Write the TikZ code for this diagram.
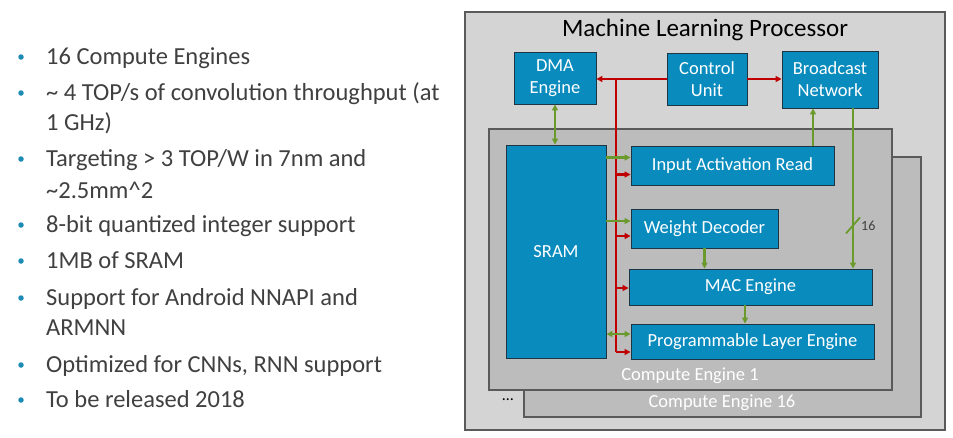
\documentclass[tikz,border=0pt]{standalone}
\usepackage{fontspec}
\setmainfont{Carlito}
\usetikzlibrary{arrows.meta,calc}
\definecolor{armblue}{HTML}{0A8BBE}
\definecolor{boxline}{HTML}{1E3644}
\definecolor{outerfill}{HTML}{D4D4D4}
\definecolor{cefill}{HTML}{BCBCBC}
\definecolor{frame}{HTML}{5A5A5A}
\definecolor{busred}{HTML}{C00000}
\definecolor{bgreen}{HTML}{6A9A2C}
\definecolor{txt}{HTML}{404040}
\definecolor{bullet}{HTML}{1E8BB5}
\tikzset{
  blk/.style={draw=boxline, line width=0.9pt, fill=armblue, text=white, inner sep=0pt, align=center, font=\fontsize{18.5}{22}\selectfont},
  frm/.style={draw=frame, line width=1.1pt, inner sep=0pt},
  redarr/.style={draw=busred, line width=2.2pt, -{Triangle[length=6pt,width=6pt]}},
  redline/.style={draw=busred, line width=2.2pt},
  grarr/.style={draw=bgreen, line width=2.2pt, -{Triangle[length=6pt,width=6pt]}},
  grboth/.style={draw=bgreen, line width=2.2pt, {Triangle[length=6pt,width=6pt]}-{Triangle[length=6pt,width=6pt]}},
  bl/.style={anchor=base west, text=txt, inner sep=0pt, font=\fontsize{24.5}{28}\selectfont},
  dot/.style={circle, fill=bullet, inner sep=0pt, minimum size=5.5pt},
}
\begin{document}
\begin{tikzpicture}[x=1pt,y=-1pt]
\useasboundingbox (0,0) rectangle (953,437);
\fill[white] (0,0) rectangle (953,437);
% left bullet list
\node[dot] (b1) at (21,57) {};
\node[dot] (b2) at (21,93) {};
\node[dot] (b3) at (21,159) {};
\node[dot] (b4) at (21,225) {};
\node[dot] (b5) at (21,261) {};
\node[dot] (b6) at (21,298) {};
\node[dot] (b7) at (21,365) {};
\node[dot] (b8) at (21,400) {};
\node[bl] (t1) at (46,64) {16 Compute Engines};
\node[bl] (t2) at (46,100) {\char`\~{} 4 TOP/s of convolution throughput (at};
\node[bl] (t2b) at (46,130) {1 GHz)};
\node[bl] (t3) at (46,166) {Targeting > 3 TOP/W in 7nm and};
\node[bl] (t3b) at (46,198) {\char`\~2.5mm\char`\^2};
\node[bl] (t4) at (46,232) {8-bit quantized integer support};
\node[bl] (t5) at (46,268) {1MB of SRAM};
\node[bl] (t6) at (46,305) {Support for Android NNAPI and};
\node[bl] (t6b) at (46,335) {ARMNN};
\node[bl] (t7) at (46,372) {Optimized for CNNs, RNN support};
\node[bl] (t8) at (46,407) {To be released 2018};
% frames
\node[frm, fill=outerfill, minimum width=480pt, minimum height=418pt] (outer) at (705,221) {};
\node[frm, fill=cefill, minimum width=397pt, minimum height=260pt] (ce16) at (722.5,287) {};
\node[frm, fill=cefill, minimum width=403pt, minimum height=261pt] (ce1) at (690.5,259.5) {};
\node[text=black, font=\fontsize{25}{28}\selectfont] (title) at (705,30) {Machine Learning Processor};
\node[text=white, font=\fontsize{18.5}{22}\selectfont] (ce1l) at (690,376) {Compute Engine 1};
\node[text=white, font=\fontsize{18.5}{22}\selectfont] (ce16l) at (722,403) {Compute Engine 16};
\node[text=black, font=\fontsize{16}{18}\selectfont] (dots) at (508,400) {\dots};
% blocks
\node[blk, minimum width=82pt, minimum height=52pt] (dma) at (555,78) {DMA\\Engine};
\node[blk, minimum width=80pt, minimum height=52pt] (cu) at (707,79) {Control\\Unit};
\node[blk, minimum width=96pt, minimum height=57pt] (bn) at (830,79.5) {Broadcast\\Network};
\node[blk, minimum width=100pt, minimum height=213pt] (sram) at (556,251.5) {SRAM};
\node[blk, minimum width=203pt, minimum height=39pt] (iar) at (732.5,165.5) {Input Activation Read};
\node[blk, minimum width=147pt, minimum height=39pt] (wd) at (704.5,228.5) {Weight Decoder};
\node[blk, minimum width=243pt, minimum height=36pt] (mac) at (750.5,287) {MAC Engine};
\node[blk, minimum width=243pt, minimum height=35pt] (ple) at (752.5,341.5) {Programmable Layer Engine};
% red control bus
\coordinate (bt) at (616,79);
\coordinate (bb) at (616,352);
\draw[redarr] (cu.west) -- (cu.west -| dma.east);
\draw[redarr] (cu.east) -- (cu.east -| bn.west);
\draw[redline] (bt) -- (bb);
\path ($(iar.west)+(0,9)$) coordinate (iarR)
      ($(wd.west)+(0,7.5)$) coordinate (wdR)
      ($(mac.west)+(0,1)$) coordinate (macR)
      ($(ple.west)+(0,10.5)$) coordinate (pleR);
\draw[redarr] (iarR -| bt) -- (iarR);
\draw[redarr] (wdR -| bt) -- (wdR);
\draw[redarr] (macR -| bt) -- (macR);
\draw[redarr] (pleR -| bt) -- (pleR);
% green data paths
\path ($(iar.west)+(0,-8)$) coordinate (iarG)
      ($(wd.west)+(0,-7.5)$) coordinate (wdG)
      ($(ple.west)+(0,-7.5)$) coordinate (pleG);
\draw[grarr] (iarG -| sram.east) -- (iarG);
\draw[grarr] (wdG -| sram.east) -- (wdG);
\draw[grboth] (pleG -| sram.east) -- (pleG);
\draw[grboth] (dma.south) -- (dma.south |- sram.north);
\path ($(iar.north)+(80.5,0)$) coordinate (iarU);
\draw[grarr] (iarU) -- (iarU |- bn.south);
\path ($(bn.south)+(23,0)$) coordinate (bnD);
\draw[grarr] (bnD) -- (bnD |- mac.north);
\draw[grarr] (wd.south) -- (wd.south |- mac.north);
\path ($(mac.south)+(-5.5,0)$) coordinate (macD);
\draw[grarr] (macD) -- (macD |- ple.north);
% bus width mark
\path ($(bnD)+(0,117)$) coordinate (slc);
\draw[draw=bgreen, line width=1.8pt] ($(slc)+(-7,8)$) -- ($(slc)+(7,-8)$);
\node[anchor=west, text=txt, inner sep=0pt, font=\fontsize{14}{16}\selectfont] (w16) at ($(slc)+(8,0)$) {16};
\end{tikzpicture}
\end{document}
